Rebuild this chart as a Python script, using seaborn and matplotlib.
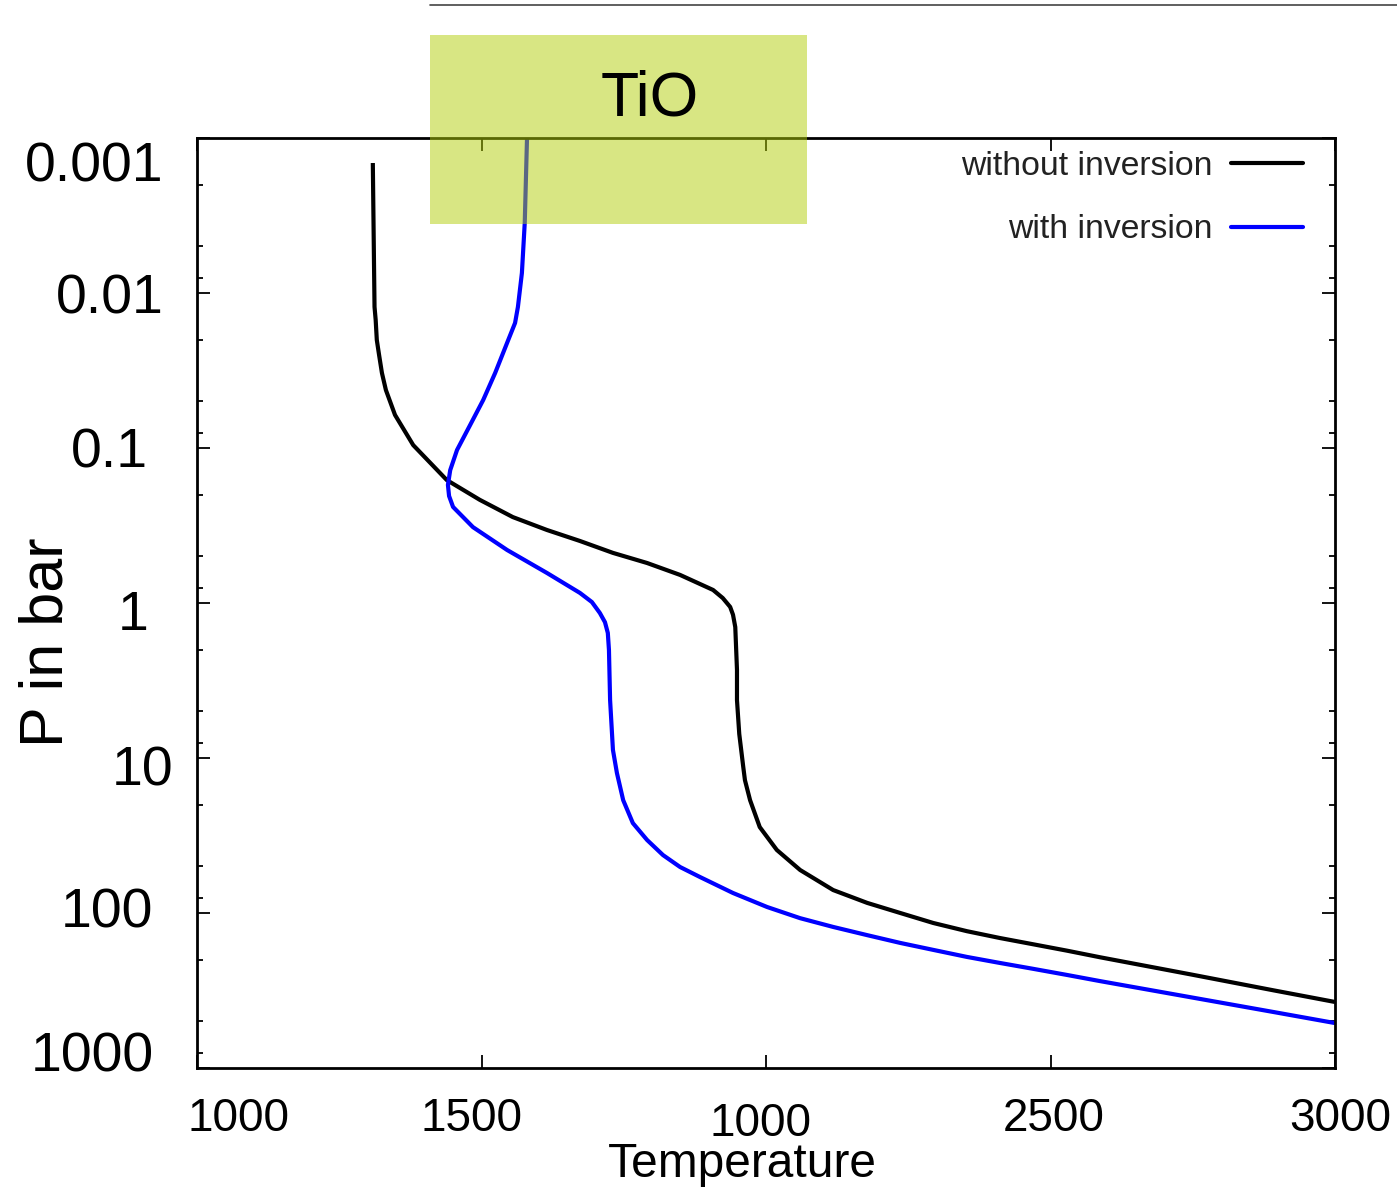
import numpy as np
import pandas as pd
import matplotlib
matplotlib.use("Agg")
import matplotlib.pyplot as plt
import seaborn as sns
from matplotlib.patches import Rectangle
from matplotlib.lines import Line2D
from matplotlib.transforms import ScaledTranslation
from matplotlib.ticker import LogLocator, NullFormatter

# ---------------- data ----------------
temp_without = [1309, 1311, 1312, 1314, 1316, 1320, 1325, 1332, 1348, 1380, 1439, 1497,
                1555, 1615, 1673, 1731, 1791, 1849, 1907, 1924, 1937, 1942, 1946, 1949,
                1949, 1953, 1960, 1963, 1972, 1989, 2019, 2060, 2118, 2178, 2236, 2294,
                2353, 2411, 2469, 2529, 2587, 2749, 2893, 3000]
p_without = [0.00145, 0.00612, 0.0123, 0.0149, 0.0201, 0.0251, 0.0328, 0.0423, 0.0612,
             0.0958, 0.161, 0.216, 0.279, 0.338, 0.398, 0.475, 0.552, 0.659, 0.824,
             0.929, 1.06, 1.19, 1.43, 2.70, 4.23, 7.0, 11.4, 13.9, 18.7, 27.9, 39.2,
             52.8, 71.1, 86.1, 100, 116, 131, 145, 159, 175, 193, 250, 316, 375]

temp_with = [1580, 1576, 1571, 1564, 1559, 1547, 1524, 1503, 1480, 1457, 1445, 1441,
             1443, 1450, 1485, 1545, 1615, 1673, 1694, 1708, 1717, 1722, 1724, 1726, 1731,
             1738, 1749, 1766, 1791, 1819, 1849, 1884, 1942, 2002, 2060, 2118, 2178,
             2236, 2294, 2353, 2411, 2469, 2529, 2587, 2749, 2893, 3000]
p_with = [0.001, 0.00353, 0.00743, 0.0123, 0.0156, 0.0201, 0.0328, 0.0490, 0.0711, 0.103,
          0.139, 0.173, 0.204, 0.240, 0.324, 0.455, 0.640, 0.861, 0.986, 1.16, 1.33, 1.56,
          2.01, 4.23, 8.87, 12.5, 18.7, 26.3, 33.8, 42.3, 50.5, 58.6, 74.3, 91.5, 108, 123,
          139, 156, 173, 192, 210, 229, 251, 275, 351, 436, 513]

series_names = ["without inversion", "with inversion"]
series_colors = ["black", "blue"]

x_ticks = [1000, 1500, 2000, 2500, 3000]
x_tick_labels = ["1000", "1500", "1000", "2500", "3000"]
y_ticks = [0.001, 0.01, 0.1, 1, 10, 100, 1000]
y_tick_labels = ["0.001", "0.01", "0.1", "1", "10", "100", "1000"]

# ---------------- style ----------------
sns.set_theme(style="ticks")
plt.rcParams["font.family"] = ["Liberation Sans", "DejaVu Sans"]

df = pd.concat([
    pd.DataFrame({"Temperature": temp_without, "Pressure": p_without,
                  "Profile": series_names[0]}),
    pd.DataFrame({"Temperature": temp_with, "Pressure": p_with,
                  "Profile": series_names[1]}),
], ignore_index=True)

fig = plt.figure(figsize=(13.97, 11.9), dpi=100)
ax = fig.add_axes([197 / 1397, (1190 - 1068) / 1190, 1138 / 1397, 930 / 1190])

sns.lineplot(data=df, x="Temperature", y="Pressure", hue="Profile",
             hue_order=series_names, palette=dict(zip(series_names, series_colors)),
             sort=False, estimator=None, linewidth=3.0, ax=ax, legend=False)
for ln in ax.get_lines():
    ln.set_solid_joinstyle("round")
    ln.set_solid_capstyle("butt")

ax.set_yscale("log")
ax.set_xlim(1000, 3000)
ax.set_ylim(1000, 0.001)

ax.set_xticks(x_ticks)
ax.set_xticklabels(x_tick_labels)
ax.set_yticks(y_ticks)
ax.set_yticklabels(y_tick_labels)
ax.yaxis.set_minor_locator(LogLocator(base=10, subs=[2, 5, 8]))
ax.yaxis.set_minor_formatter(NullFormatter())
ax.xaxis.set_minor_locator(plt.NullLocator())

for s in ax.spines.values():
    s.set_color("black")
    s.set_linewidth(2)

ax.tick_params(axis="both", which="major", direction="in", length=9.5, width=1.3,
               top=True, right=True, color="black")
ax.tick_params(axis="both", which="minor", direction="in", length=4.5, width=1.3,
               left=True, right=True, color="black")
ax.tick_params(axis="y", which="major", labelsize=40, pad=26, labelcolor="black")
ax.tick_params(axis="x", which="major", labelsize=33, pad=21, labelcolor="black")

# per-label offsets as in the reference (pixels: dx right, dy down)
y_off = [(3, 23), (3, 1), (-13, -1), (-12, 7), (12, 7), (-8, -5), (-7, -17)]
x_off = [(41, 0), (-10, 0), (-6, 5), (3, 0), (5, 0)]
for lbl, (dx, dy) in zip(ax.get_yticklabels(), y_off):
    lbl.set_transform(lbl.get_transform() + ScaledTranslation(dx / 100, -dy / 100, fig.dpi_scale_trans))
for lbl, (dx, dy) in zip(ax.get_xticklabels(), x_off):
    lbl.set_transform(lbl.get_transform() + ScaledTranslation(dx / 100, -dy / 100, fig.dpi_scale_trans))

ax.set_xlabel("Temperature", fontsize=34.5, color="black")
ax.xaxis.set_label_coords(0.479, -0.0796)
ax.set_ylabel("P in bar", fontsize=44, color="black")
ax.yaxis.set_label_coords(-0.107, 0.458)

handles = [Line2D([], [], color=c, lw=3.0) for c in series_colors]
leg = ax.legend(handles, series_names, loc="upper right", bbox_to_anchor=(0.972, 0.9860),
                frameon=False, markerfirst=False, handlelength=2.15,
                handletextpad=0.53, labelspacing=0.96, borderpad=0, borderaxespad=0,
                prop={"size": 24.3})
for t in leg.get_texts():
    t.set_color("#222222")

# overlay decorations
fig.add_artist(Line2D([430 / 1397, 1.0], [1 - 5 / 1190] * 2, transform=fig.transFigure,
                      color="#444444", lw=1.2))
fig.add_artist(Rectangle((430 / 1397, 1 - 224 / 1190), 377 / 1397, 189 / 1190,
                         transform=fig.transFigure, facecolor="#b2cf08", alpha=0.5,
                         edgecolor="none", zorder=5))
fig.text(650 / 1397, 1 - 99 / 1190, "TiO", ha="center", va="center", fontsize=45,
         color="black", zorder=6)

fig.savefig("out.png", dpi=100)
